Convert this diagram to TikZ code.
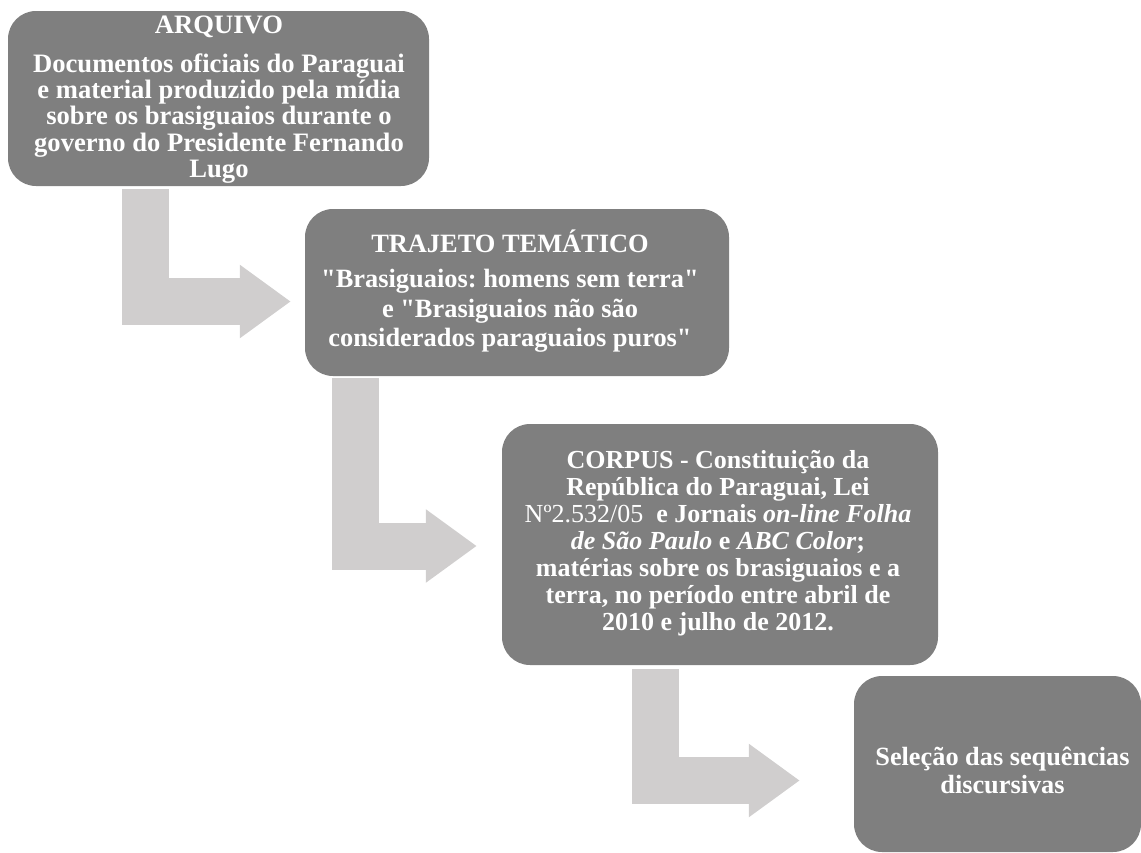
\documentclass[tikz,border=0pt]{standalone}
\usepackage{fontspec}
\setmainfont{Liberation Serif}[Ligatures=TeXOff]
\frenchspacing
\usepackage{xcolor}
\definecolor{stageGray}{HTML}{7F7F7F}
\definecolor{arrowGray}{HTML}{D0CECE}
\usetikzlibrary{arrows.meta,positioning,calc}
\tikzset{
    stage/.style={
        draw=none,
        fill=stageGray,
        rectangle,
        rounded corners=28pt,
        inner sep=0pt
    },
    stagetext/.style={
        text=white,
        align=center,
        inner sep=0pt
    },
    bentarrow/.style={
        draw=arrowGray,
        line width=47pt,
        line join=miter,
        -{Triangle[length=51pt,width=70pt]}
    }
}

\begin{document}
\begin{tikzpicture}[x=1pt,y=-1pt]
    \useasboundingbox (0,0) rectangle (1141,852);

    % Stages
    \node[stage, minimum width=421pt, minimum height=175pt] (arquivo) at (218.5,98.5) {};
    \node[stage, minimum width=424pt, minimum height=167pt] (trajeto) at (517,292.5) {};
    \node[stage, minimum width=436pt, minimum height=241pt] (corpus) at (720,544.5) {};
    \node[stage, minimum width=287pt, minimum height=176pt] (selecao) at (997.5,764) {};

    % Texts
    \node[stagetext, font=\bfseries\fontsize{26.6}{26.3}\selectfont]
        (arquivo-txt) at (219,99.5) {ARQUIVO\\[12.5pt]
        Documentos oficiais do Paraguai\\ e material produzido pela mídia\\
        sobre os brasiguaios durante o\\ governo do Presidente Fernando\\ Lugo};
    \node[stagetext, font=\bfseries\fontsize{26.4}{29.5}\selectfont]
        (trajeto-txt) at (510,291.2) {TRAJETO TEMÁTICO\\[5.5pt]
        "Brasiguaios: homens sem terra"\\ e "Brasiguaios não são\\
        considerados paraguaios puros"};
    \node[stagetext, font=\bfseries\fontsize{26}{27}\selectfont]
        (corpus-txt) at (718,543) {CORPUS - Constituição da\\ República do Paraguai, Lei\\
        {\mdseries Nº2.532/05}\ \ e Jornais \textit{on-line Folha}\\
        \textit{de São Paulo} e \textit{ABC Color};\\
        matérias sobre os brasiguaios e a\\ terra, no período entre abril de\\
        2010 e julho de 2012.};
    \node[stagetext, font=\bfseries\fontsize{26.3}{28}\selectfont]
        (selecao-txt) at (1002.5,770) {Seleção das sequências\\ discursivas};

    % Arrows
    \draw[bentarrow] ([xshift=137.5pt,yshift=-3pt]arquivo.south west)
        |- ([xshift=-14pt,yshift=-9pt]trajeto.west);
    \draw[bentarrow] ([xshift=50.5pt,yshift=-2pt]trajeto.south west)
        |- ([xshift=-25pt,yshift=-1.5pt]corpus.west);
    \draw[bentarrow] ([xshift=153.5pt,yshift=-4pt]corpus.south west)
        |- ([xshift=-54pt,yshift=-16.5pt]selecao.west);
\end{tikzpicture}
\end{document}
